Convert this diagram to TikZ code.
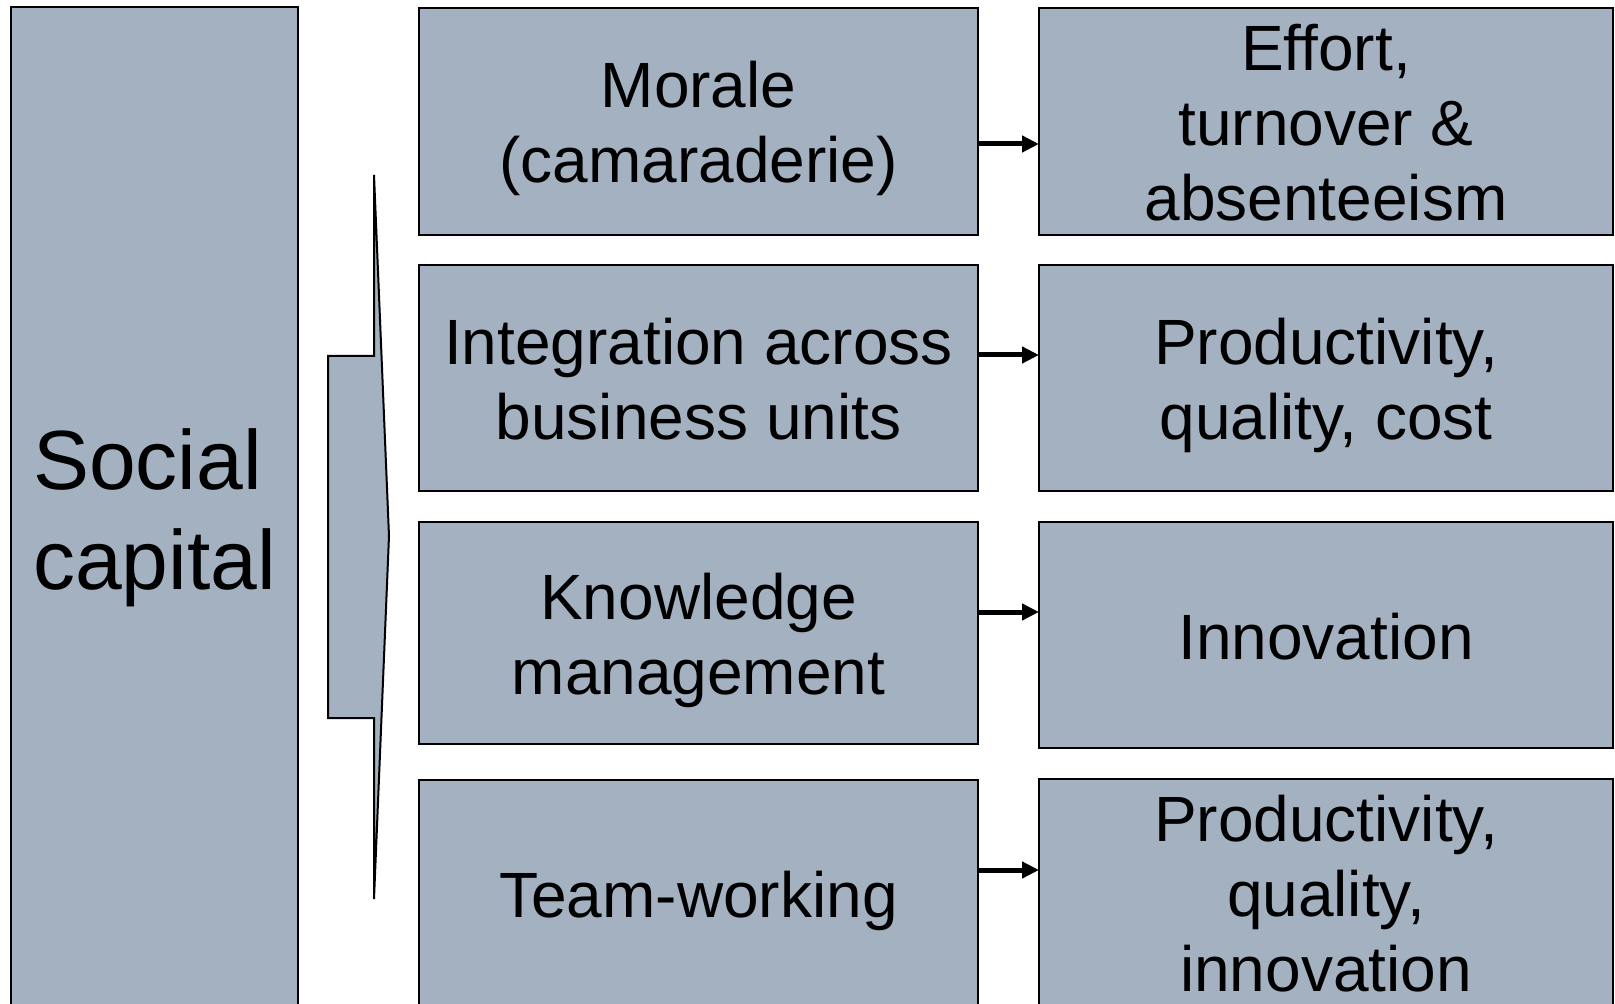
\documentclass[tikz,border=0pt]{standalone}
\usepackage{fontspec}
\setmainfont{Liberation Sans}
\usetikzlibrary{arrows.meta}
\definecolor{boxfill}{RGB}{163,177,193}
\newcommand{\ms}{\rule[-6.75pt]{0pt}{37.5pt}}
\newcommand{\ls}{\rule[-9.5pt]{0pt}{50pt}}
\tikzset{
  box/.style={draw=black, line width=1pt, fill=boxfill, inner sep=0pt, outer sep=0pt,
    align=center, font=\fontsize{32}{37.5}\selectfont},
  midbox/.style={box, minimum width=279.5pt},
  outbox/.style={box, minimum width=287pt},
  arr/.style={line width=2.5pt, -{Triangle[length=8.5pt,width=8pt]}},
}
\begin{document}
\begin{tikzpicture}[x=0.5pt,y=-0.5pt]
\useasboundingbox (0,0) rectangle (1615,1004);
\clip (0,0) rectangle (1615,1004);
% left box
\node[box, minimum width=143.5pt, minimum height=501pt, align=left,
  font=\fontsize{42}{50}\selectfont] (sc) at (154.5,508) {\ls Social\\\ls capital};
% brace
\draw[line width=1pt, fill=boxfill] (374,175) -- (389,536) -- (374,899) -- (374,718)
  -- (328,718) -- (328,356) -- (374,356) -- cycle;
% middle column
\node[midbox, minimum height=113.5pt] (m1) at (698.5,121.5) {\ms Morale\\\ms (camaraderie)};
\node[midbox, minimum height=113pt] (m2) at (698.5,378) {\ms Integration across\\\ms business units};
\node[midbox, minimum height=111pt] (m3) at (698.5,633) {\ms Knowledge\\\ms management};
\node[midbox, minimum height=113pt] (m4) at (698.5,893) {\ms Team-working};
% right column
\node[outbox, minimum height=113.5pt] (r1) at (1326,121.5) {\ms Effort,\\\ms turnover \&\\\ms absenteeism};
\node[outbox, minimum height=113pt] (r2) at (1326,378) {\ms Productivity,\\\ms quality, cost};
\node[outbox, minimum height=113pt] (r3) at (1326,635) {\ms Innovation};
\node[outbox, minimum height=113pt] (r4) at (1326,892) {\ms Productivity,\\\ms quality,\\\ms innovation};
% arrows
\coordinate (y1) at (0,144);
\coordinate (y2) at (0,355);
\coordinate (y3) at (0,612);
\coordinate (y4) at (0,870);
\draw[arr] (m1.east |- y1) -- (r1.west |- y1);
\draw[arr] (m2.east |- y2) -- (r2.west |- y2);
\draw[arr] (m3.east |- y3) -- (r3.west |- y3);
\draw[arr] (m4.east |- y4) -- (r4.west |- y4);
\end{tikzpicture}
\end{document}
